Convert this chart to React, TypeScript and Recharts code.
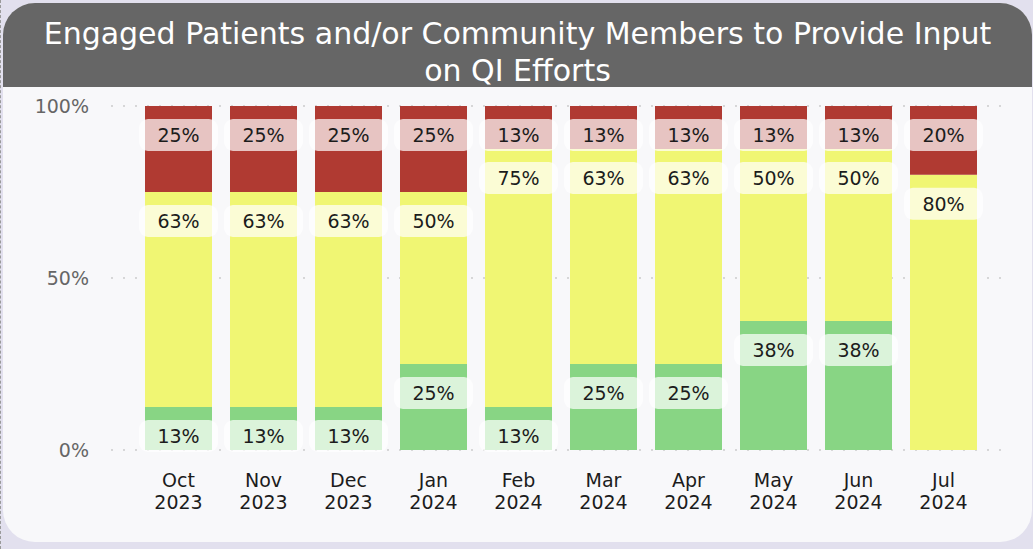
import { Bar, BarChart, CartesianGrid, LabelList, XAxis, YAxis } from 'recharts';

const months = ['Oct', 'Nov', 'Dec', 'Jan', 'Feb', 'Mar', 'Apr', 'May', 'Jun', 'Jul'];
const years = ['2023', '2023', '2023', '2024', '2024', '2024', '2024', '2024', '2024', '2024'];
const greenValues = [12.5, 12.5, 12.5, 25, 12.5, 25, 25, 37.5, 37.5, 0];
const yellowValues = [62.5, 62.5, 62.5, 50, 75, 62.5, 62.5, 50, 50, 80];
const redValues = [25, 25, 25, 25, 12.5, 12.5, 12.5, 12.5, 12.5, 20];
const yTicks = [0, 50, 100];

const data = months.map((m, i) => ({
  month: m,
  year: years[i],
  key: `${m} ${years[i]}`,
  green: greenValues[i],
  yellow: yellowValues[i],
  red: redValues[i],
}));

const FONT = '"DejaVu Sans", sans-serif';

function SegmentLabel(props: any) {
  const { x, y, width, value } = props;
  if (!value) return null;
  const top = Number(y) + 13;
  return (
    <g>
      <rect x={Number(x) - 6} y={top} width={Number(width) + 12} height={32} rx={9} fill="#ffffff" fillOpacity={0.7} />
      <text
        x={Number(x) + Number(width) / 2}
        y={top + 23}
        textAnchor="middle"
        fontSize={19}
        fontFamily={FONT}
        fill="#1c1c1c"
      >
        {`${Math.round(value)}%`}
      </text>
    </g>
  );
}

// two-line month / year tick
function MonthTick(props: any) {
  const { x, y, payload } = props;
  const [m, yr] = String(payload.value).split(' ');
  return (
    <g>
      <text x={x} y={y + 29} textAnchor="middle" fontSize={19} fontFamily={FONT} fill="#1c1c1c">
        {m}
      </text>
      <text x={x} y={y + 51} textAnchor="middle" fontSize={19} fontFamily={FONT} fill="#1c1c1c">
        {yr}
      </text>
    </g>
  );
}

export default function App() {
  return (
    <div
      style={{
        position: 'absolute',
        left: 0,
        top: 0,
        width: 1033,
        height: 549,
        background: '#e2e0ee',
        borderLeft: '1px dashed #9a9a9a',
        boxSizing: 'border-box',
        overflow: 'hidden',
      }}
    >
      <div
        style={{
          position: 'absolute',
          left: 2,
          top: 3,
          width: 1029,
          height: 539,
          background: '#f8f8fa',
          borderRadius: 32,
          overflow: 'hidden',
        }}
      >
        <div
          style={{
            position: 'absolute',
            left: 0,
            top: 0,
            width: 1029,
            height: 84,
            background: '#666666',
          }}
        />
        <div
          style={{
            position: 'absolute',
            left: 0,
            top: 12,
            width: 1029,
            textAlign: 'center',
            color: '#ffffff',
            fontFamily: FONT,
            fontSize: 30,
            lineHeight: '37px',
            whiteSpace: 'nowrap',
          }}
        >
          Engaged Patients and/or Community Members to Provide Input
          <br />
          on QI Efforts
        </div>
      </div>
      <div style={{ position: 'absolute', left: 0, top: 87 }}>
        <BarChart
          width={1033}
          height={455}
          data={data}
          margin={{ top: 19, right: 25, bottom: 32, left: 0 }}
        >
          <CartesianGrid vertical={false} stroke="#b5b5b5" strokeDasharray="2 10" />
          <XAxis
            dataKey="key"
            axisLine={false}
            tickLine={false}
            interval={0}
            height={60}
            padding={{ left: 25, right: 23 }}
            tick={<MonthTick />}
          />
          <YAxis
            type="number"
            domain={[0, 100]}
            ticks={yTicks}
            width={110}
            axisLine={false}
            tickLine={false}
            tickSize={0}
            tickMargin={22}
            tickFormatter={(v) => `${v}%`}
            tick={{ fontSize: 19, fontFamily: FONT, fill: '#666666' }}
          />
          <Bar dataKey="green" stackId="s" fill="#88d584" barSize={67} isAnimationActive={false}>
            <LabelList dataKey="green" content={<SegmentLabel />} />
          </Bar>
          <Bar dataKey="yellow" stackId="s" fill="#f0f673" barSize={67} isAnimationActive={false}>
            <LabelList dataKey="yellow" content={<SegmentLabel />} />
          </Bar>
          <Bar dataKey="red" stackId="s" fill="#b03a32" barSize={67} isAnimationActive={false}>
            <LabelList dataKey="red" content={<SegmentLabel />} />
          </Bar>
        </BarChart>
      </div>
    </div>
  );
}
